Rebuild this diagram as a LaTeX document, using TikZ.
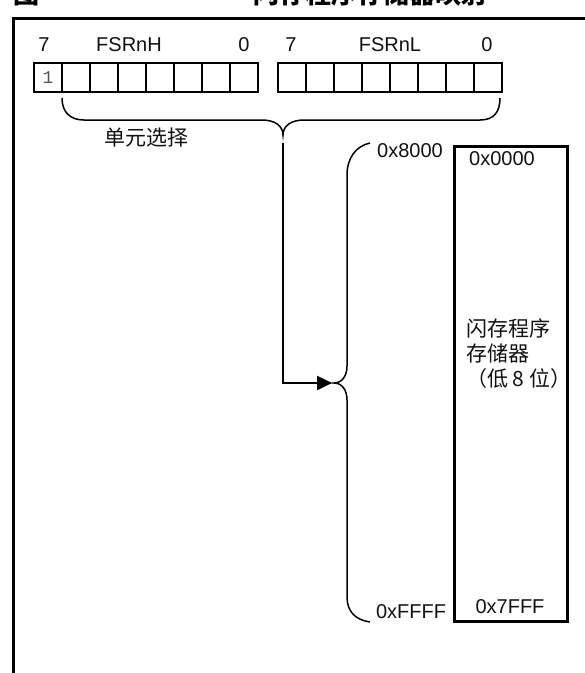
\documentclass[tikz,border=0pt]{standalone}
\usepackage{fontspec}
\setmainfont{Liberation Sans}
\setmonofont{Liberation Mono}
\newfontfamily\cjk{Noto Sans CJK SC}
\usetikzlibrary{arrows.meta,positioning}
\definecolor{bitgray}{HTML}{555555}
\definecolor{ink}{HTML}{111111}

\begin{document}
\begin{tikzpicture}[x=1pt,y=-1pt,
  cell/.style={draw,line width=2pt,minimum width=28pt,minimum height=29pt,inner sep=0pt,anchor=north west},
  lab/.style={font=\fontsize{20}{24}\selectfont,anchor=base,inner sep=0pt,ink},
  zh/.style={font=\cjk\fontsize{21}{25}\selectfont,inner sep=0pt,ink}]
  \useasboundingbox (0,0) rectangle (585,673);
  \clip (0,0) rectangle (585,673);

  % title (cut off at the top)
  \node[font=\cjk\bfseries\fontsize{26}{28}\selectfont,anchor=south west,inner sep=0pt] (ttlA) at (13,6) {图};
  \node[font=\cjk\bfseries\fontsize{26}{28}\selectfont,anchor=south west,inner sep=0pt] (ttlB) at (253,6) {闪存程序存储器映射};

  % frame
  \draw[line width=3pt] (585,18) -- (13,18) -- (13,673);

  % FSRnH and FSRnL registers
  \foreach \i in {0,...,7} {
    \node[cell] (h\i) at (33+28*\i,62) {};
    \node[cell] (l\i) at (277+28*\i,62) {};
  }
  \node[font=\ttfamily\fontsize{18}{20}\selectfont,bitgray] (msb) at (h0) {1};
  \node[lab] (h7lab) at (44,51) {7};
  \node[lab] (hname) at (129,51) {FSRnH};
  \node[lab] (h0lab) at (244,51) {0};
  \node[lab] (l7lab) at (291,51) {7};
  \node[lab] (lname) at (390,51) {FSRnL};
  \node[lab] (l0lab) at (487,51) {0};

  % select brace
  \draw[line width=1.5pt] (62,98) .. controls (62,112) and (70,120) .. (84,120) -- (262,120)
    .. controls (275,120) and (283,126) .. (283,135)
    .. controls (283,126) and (291,120) .. (304,120) -- (480,120)
    .. controls (494,120) and (500,112) .. (500,98);
  \node[zh] (sel) at (146,138) {单元选择};
  \coordinate (selTip) at (283,143);

  % mapping brace
  \draw[line width=1.5pt] (370,143) .. controls (356,146) and (347,158) .. (347,175) -- (347,366)
    .. controls (347,376) and (342,383) .. (334,383)
    .. controls (342,383) and (347,390) .. (347,400) -- (347,597)
    .. controls (347,612) and (356,620) .. (370,622);
  \coordinate (mapTip) at (332,383);
  \draw[line width=2.5pt,-{Triangle[length=15pt,width=14pt]}] (selTip) |- (mapTip);
  \node[lab] (top) at (410,157) {0x8000};
  \node[lab] (bot) at (411,618) {0xFFFF};

  % program flash memory
  \node[draw,line width=2.5pt,minimum width=113pt,minimum height=475pt,anchor=north west,inner sep=0pt] (flash) at (453,145) {};
  \node[lab] (fTop) at (502,165) {0x0000};
  \node[lab] (fBot) at (510,613) {0x7FFF};
  \node[zh,align=left,anchor=north west] (fName) at (466,319) {闪存程序\\存储器\\（低 8 位）};
\end{tikzpicture}
\end{document}
